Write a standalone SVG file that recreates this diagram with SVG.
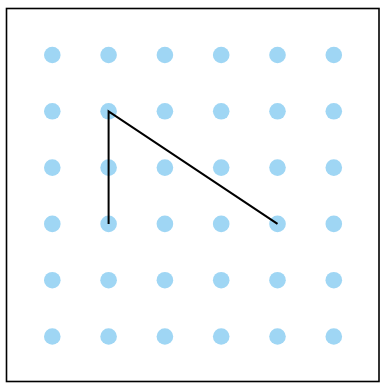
<svg xmlns="http://www.w3.org/2000/svg" width="380" height="383" viewBox="0 0 380 383">
<style>
.dot{fill:#9fd6f4}
.ln{stroke:#000;stroke-width:2;fill:none;stroke-linejoin:miter}
</style>
<rect x="0" y="0" width="380" height="383" fill="#fff"/>
<rect x="6.5" y="8.5" width="372.5" height="373" fill="#fff" stroke="#000" stroke-width="1.6"/>
<g id="dots">
<g id="r1"><circle class="dot" cx="52.3" cy="55" r="8.3"/><circle class="dot" cx="108.6" cy="55" r="8.3"/><circle class="dot" cx="164.9" cy="55" r="8.3"/><circle class="dot" cx="221.2" cy="55" r="8.3"/><circle class="dot" cx="277.5" cy="55" r="8.3"/><circle class="dot" cx="333.8" cy="55" r="8.3"/></g>
<g id="r2"><circle class="dot" cx="52.3" cy="111.3" r="8.3"/><circle class="dot" cx="108.6" cy="111.3" r="8.3"/><circle class="dot" cx="164.9" cy="111.3" r="8.3"/><circle class="dot" cx="221.2" cy="111.3" r="8.3"/><circle class="dot" cx="277.5" cy="111.3" r="8.3"/><circle class="dot" cx="333.8" cy="111.3" r="8.3"/></g>
<g id="r3"><circle class="dot" cx="52.3" cy="167.6" r="8.3"/><circle class="dot" cx="108.6" cy="167.6" r="8.3"/><circle class="dot" cx="164.9" cy="167.6" r="8.3"/><circle class="dot" cx="221.2" cy="167.6" r="8.3"/><circle class="dot" cx="277.5" cy="167.6" r="8.3"/><circle class="dot" cx="333.8" cy="167.6" r="8.3"/></g>
<g id="r4"><circle class="dot" cx="52.3" cy="223.9" r="8.3"/><circle class="dot" cx="108.6" cy="223.9" r="8.3"/><circle class="dot" cx="164.9" cy="223.9" r="8.3"/><circle class="dot" cx="221.2" cy="223.9" r="8.3"/><circle class="dot" cx="277.5" cy="223.9" r="8.3"/><circle class="dot" cx="333.8" cy="223.9" r="8.3"/></g>
<g id="r5"><circle class="dot" cx="52.3" cy="280.2" r="8.3"/><circle class="dot" cx="108.6" cy="280.2" r="8.3"/><circle class="dot" cx="164.9" cy="280.2" r="8.3"/><circle class="dot" cx="221.2" cy="280.2" r="8.3"/><circle class="dot" cx="277.5" cy="280.2" r="8.3"/><circle class="dot" cx="333.8" cy="280.2" r="8.3"/></g>
<g id="r6"><circle class="dot" cx="52.3" cy="336.5" r="8.3"/><circle class="dot" cx="108.6" cy="336.5" r="8.3"/><circle class="dot" cx="164.9" cy="336.5" r="8.3"/><circle class="dot" cx="221.2" cy="336.5" r="8.3"/><circle class="dot" cx="277.5" cy="336.5" r="8.3"/><circle class="dot" cx="333.8" cy="336.5" r="8.3"/></g>
</g>
<g id="connectors">
<polyline class="ln" points="108.6,223.9 108.6,111.3 277.5,223.9"/>
</g>
</svg>
